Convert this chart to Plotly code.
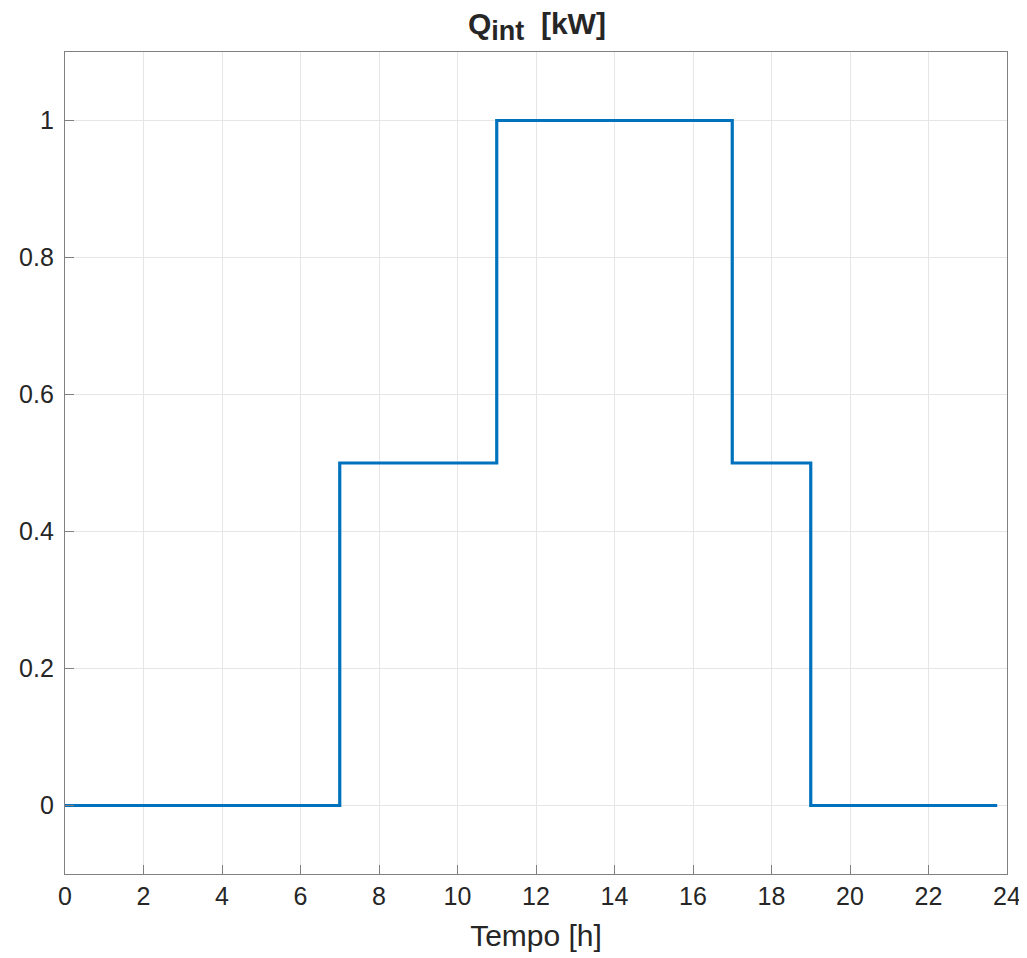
import plotly.graph_objects as go

# Step points (value held until next time)
tempo_h = [0, 7, 11, 17, 19, 23.75]
q_int_kw = [0, 0.5, 1.0, 0.5, 0, 0]

x_ticks = list(range(0, 25, 2))
y_ticks = [0, 0.2, 0.4, 0.6, 0.8, 1]
y_tick_labels = ["0", "0.2", "0.4", "0.6", "0.8", "1"]

FONT = "Liberation Sans, Arial, Helvetica"
TXT = "#262626"

fig = go.Figure()
fig.add_trace(go.Scatter(
    x=tempo_h, y=q_int_kw, mode="lines", line_shape="hv",
    line=dict(color="#0072BD", width=3.2), showlegend=False,
))

axis_common = dict(
    showline=True, linecolor="#808080", linewidth=1.3, mirror=True,
    ticks="inside", ticklen=9, tickcolor="#808080", tickwidth=1.3,
    showgrid=True, gridcolor="#e6e6e6", gridwidth=1,
    zeroline=False, automargin=False,
    tickfont=dict(family=FONT, size=25, color=TXT),
)

# the page body adds an 8px offset, margins compensate for it
fig.update_layout(
    width=1027, height=958,
    margin=dict(l=57, r=28, t=44, b=92, autoexpand=False),
    paper_bgcolor="white", plot_bgcolor="white",
    title=dict(text="<b>Q<sub><span style=\"font-size:27px\">int</span></sub>  [kW]</b>",
               x=(522.5 - 8) / 1027, xanchor="center", xref="paper",
               y=1 - 15 / 958, yanchor="middle",
               font=dict(family=FONT, size=30, color=TXT)),
    xaxis=dict(range=[0, 24], tickvals=x_ticks,
               title=dict(text="Tempo [h]", standoff=15,
                          font=dict(family=FONT, size=30, color=TXT)),
               **axis_common),
    yaxis=dict(range=[-0.1, 1.1], tickvals=y_ticks, ticktext=y_tick_labels,
               ticklabelstandoff=5,
               **axis_common),
)

fig.write_html("out.html")
